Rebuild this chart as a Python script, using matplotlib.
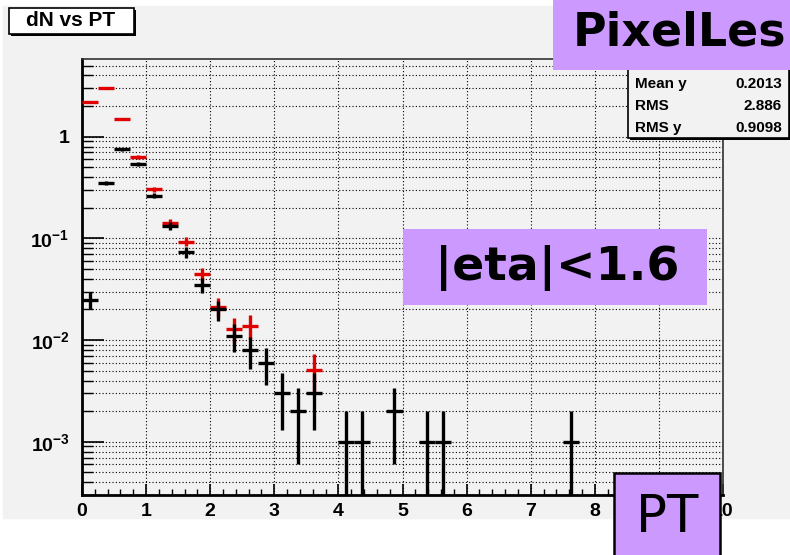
import matplotlib
matplotlib.use("Agg")
import matplotlib.pyplot as plt
from matplotlib.patches import Rectangle
from matplotlib.ticker import FixedLocator, FuncFormatter, MultipleLocator
import numpy as np

# dN vs PT, bins of 0.25 GeV
pt_black = [0.125, 0.375, 0.625, 0.875, 1.125, 1.375, 1.625, 1.875, 2.125, 2.375, 2.625,
            2.875, 3.125, 3.375, 3.625, 4.125, 4.375, 4.875, 5.375, 5.625, 7.625]
dn_black = [0.025, 0.35, 0.75, 0.535, 0.263, 0.132, 0.073, 0.035, 0.020, 0.011, 0.008,
            0.006, 0.003, 0.002, 0.003, 0.001, 0.001, 0.002, 0.001, 0.001, 0.001]
err_black = [0.005, 0.019, 0.027, 0.023, 0.016, 0.0115, 0.0085, 0.0059, 0.0045, 0.0033, 0.0028,
             0.0024, 0.0017, 0.0014, 0.0017, 0.001, 0.001, 0.0014, 0.001, 0.001, 0.001]

pt_red = [0.125, 0.375, 0.625, 0.875, 1.125, 1.375, 1.625, 1.875, 2.125, 2.375, 2.625, 3.625]
dn_red = [2.18, 2.99, 1.48, 0.63, 0.304, 0.143, 0.093, 0.0447, 0.0213, 0.013, 0.0139, 0.0051]
err_red = [0.047, 0.055, 0.038, 0.025, 0.017, 0.012, 0.0096, 0.0067, 0.0046, 0.0036, 0.0037, 0.0022]

BIN_HALF = 0.125
W, H = 790, 555
BG = '#f2f2f2'
PURPLE = '#cc99ff'

plt.rcParams['mathtext.fontset'] = 'custom'
plt.rcParams['mathtext.rm'] = 'Liberation Sans:bold'
plt.rcParams['mathtext.bf'] = 'Liberation Sans:bold'


def fx(x):
    return x / W


def fy(y):
    return 1 - y / H


fig = plt.figure(figsize=(W / 100, H / 100), dpi=100)
fig.patch.set_facecolor('white')
# grey ROOT canvas
fig.patches.append(Rectangle((fx(3), fy(518)), fx(787), (518 - 6) / H,
                             transform=fig.transFigure, color=BG, zorder=-5))

ax = fig.add_axes([fx(82), fy(495), fx(723) - fx(82), (495 - 59) / H])
ax.set_facecolor(BG)
ax.set_yscale('log')
ax.set_xlim(0, 10)
ax.set_ylim(3.0e-4, 5.8)
ax.set_axisbelow(True)

ax.grid(True, which='major', axis='x', linestyle=(0, (1, 2)), color='black', linewidth=0.8)
ax.grid(True, which='both', axis='y', linestyle=(0, (1, 2)), color='black', linewidth=0.8)

dn_r = np.array(dn_red)
er_r = np.array(err_red)
ax.errorbar(pt_red, dn_r, xerr=BIN_HALF, yerr=[np.minimum(er_r, dn_r * 0.999), er_r],
            fmt='none', ecolor='#e00000', elinewidth=2.4, capsize=0, zorder=3)
dn_b = np.array(dn_black)
er_b = np.array(err_black)
ax.errorbar(pt_black, dn_b, xerr=BIN_HALF, yerr=[np.minimum(er_b, dn_b * 0.999), er_b],
            fmt='none', ecolor='black', elinewidth=2.4, capsize=0, zorder=4)

ax.xaxis.set_major_locator(MultipleLocator(1))
ax.xaxis.set_minor_locator(MultipleLocator(0.2))
ax.yaxis.set_major_locator(FixedLocator([1e-3, 1e-2, 1e-1, 1]))
ax.yaxis.set_minor_locator(FixedLocator([m * 10.0 ** e for e in range(-4, 1) for m in range(2, 10)]))


def ylab(v, pos):
    e = int(round(np.log10(v)))
    if e == 0:
        return '1'
    return r'$\mathregular{10^{%d}}$' % e


ax.yaxis.set_major_formatter(FuncFormatter(ylab))
ax.tick_params(axis='x', which='major', direction='in', length=8, width=1.2, pad=6,
               labelsize=14, top=False)
ax.tick_params(axis='x', which='minor', direction='in', length=4, width=1.0, top=False)
ax.tick_params(axis='y', which='major', direction='in', length=16, width=1.2, pad=9,
               labelsize=14, right=False)
ax.tick_params(axis='y', which='minor', direction='in', length=8, width=1.0, right=False)
for lab in ax.get_xticklabels() + ax.get_yticklabels():
    lab.set_fontfamily('Liberation Sans')
    lab.set_fontweight('bold')
for s in ['left', 'bottom']:
    ax.spines[s].set_linewidth(2.0)
for s in ['top', 'right']:
    ax.spines[s].set_linewidth(1.2)
    ax.spines[s].set_color('#333333')

# title box
fig.patches.append(Rectangle((fx(11), fy(36)), fx(125), 26 / H, transform=fig.transFigure,
                             facecolor='black', edgecolor='none', zorder=5))
fig.patches.append(Rectangle((fx(9), fy(34)), fx(125), 26 / H, transform=fig.transFigure,
                             facecolor='white', edgecolor='black', linewidth=1.2, zorder=6))
fig.text(fx(71), fy(21), 'dN vs PT', ha='center', va='center', fontsize=15,
         fontweight='bold', family='Liberation Sans', zorder=7)

# stats box
fig.patches.append(Rectangle((fx(630), fy(140)), fx(165), 75 / H, transform=fig.transFigure,
                             facecolor='black', edgecolor='none', zorder=5))
fig.patches.append(Rectangle((fx(628), fy(138)), fx(161), 75 / H, transform=fig.transFigure,
                             facecolor=BG, edgecolor='black', linewidth=1.2, zorder=6))
stat_names = ['Mean y', 'RMS', 'RMS y']
stat_vals = ['0.2013', '2.886', '0.9098']
for i, (n, v) in enumerate(zip(stat_names, stat_vals)):
    yy = 84 + i * 22
    fig.text(fx(635), fy(yy), n, ha='left', va='center', fontsize=11, fontweight='bold',
             family='Liberation Sans', zorder=7)
    fig.text(fx(782), fy(yy), v, ha='right', va='center', fontsize=11, fontweight='bold',
             family='Liberation Sans', zorder=7)

# purple overlays
fig.patches.append(Rectangle((fx(553), fy(70)), fx(240), 72 / H, transform=fig.transFigure,
                             facecolor=PURPLE, edgecolor='none', zorder=8))
fig.text(fx(573), fy(33), 'PixelLes', ha='left', va='center', fontsize=33, fontweight='bold',
         family='DejaVu Sans', zorder=9)

fig.patches.append(Rectangle((fx(403), fy(305)), fx(304), 76 / H, transform=fig.transFigure,
                             facecolor=PURPLE, edgecolor='none', zorder=8))
fig.text(fx(557), fy(268), '|eta|<1.6', ha='center', va='center', fontsize=34,
         fontweight='bold', family='DejaVu Sans', zorder=9)

fig.patches.append(Rectangle((fx(614), fy(560)), fx(106), 87 / H, transform=fig.transFigure,
                             facecolor=PURPLE, edgecolor='black', linewidth=1.8, zorder=8))
fig.text(fx(667), fy(518), 'PT', ha='center', va='center', fontsize=37,
         family='DejaVu Sans', zorder=9)

fig.savefig('out.png', dpi=100)
